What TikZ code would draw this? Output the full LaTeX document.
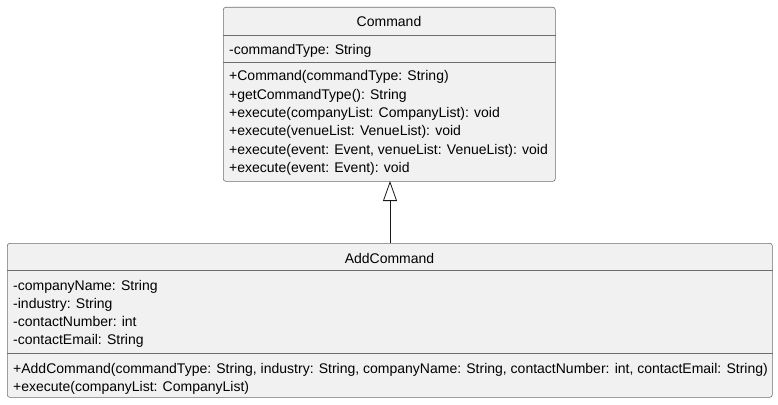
\documentclass[tikz,border=0pt]{standalone}
\usepackage{fontspec}
\setmainfont{Liberation Sans}
\usetikzlibrary{arrows.meta}
\definecolor{boxfill}{HTML}{F1F1F1}
\definecolor{boxline}{HTML}{6E6E6E}
\definecolor{arrowline}{HTML}{181818}
\tikzset{
  classbox/.style={draw=boxline, fill=boxfill, line width=0.6pt, rounded corners=2.5pt, inner sep=0pt, anchor=north west},
  sepline/.style={draw=boxline, line width=0.6pt},
  member/.style={anchor=base west, inner sep=0pt, font=\fontsize{14pt}{16pt}\selectfont, text=black},
  title/.style={anchor=base, inner sep=0pt, font=\fontsize{14pt}{16pt}\selectfont, text=black},
  inherit/.style={draw=arrowline, line width=0.8pt, -{Triangle[open, length=20pt, width=14pt]}}
}
\begin{document}
\begin{tikzpicture}[x=1pt, y=-1pt]
\useasboundingbox (0,0) rectangle (778,404);
% Command class
\node[classbox, minimum width=332pt, minimum height=174pt] (cmd) at (223,7) {};
\draw[sepline] (cmd.west |- 0,35) -- (cmd.east |- 0,35);
\draw[sepline] (cmd.west |- 0,62) -- (cmd.east |- 0,62);
\node[title] (cmdtitle) at (389,26.5) {Command};
\node[member] (ca1) at (229,54.5) {-commandType: String};
\node[member] (cm1) at (229,81) {+Command(commandType: String)};
\node[member] (cm2) at (229,99.3) {+getCommandType(): String};
\node[member] (cm3) at (229,117.6) {+execute(companyList: CompanyList): void};
\node[member] (cm4) at (229,135.9) {+execute(venueList: VenueList): void};
\node[member] (cm5) at (229,154.2) {+execute(event: Event, venueList: VenueList): void};
\node[member] (cm6) at (229,172.5) {+execute(event: Event): void};
% AddCommand class
\node[classbox, minimum width=765pt, minimum height=154pt] (add) at (7,243) {};
\draw[sepline] (add.west |- 0,270.5) -- (add.east |- 0,270.5);
\draw[sepline] (add.west |- 0,353) -- (add.east |- 0,353);
\node[title] (addtitle) at (389.5,263) {AddCommand};
\node[member] (aa1) at (13,290) {-companyName: String};
\node[member] (aa2) at (13,308.3) {-industry: String};
\node[member] (aa3) at (13,326.6) {-contactNumber: int};
\node[member] (aa4) at (13,344.9) {-contactEmail: String};
\node[member] (am1) at (13,373.5) {+AddCommand(commandType: String, industry: String, companyName: String, contactNumber: int, contactEmail: String)};
\node[member] (am2) at (13,391.8) {+execute(companyList: CompanyList)};
% inheritance
\coordinate (tip) at (390,181);
\coordinate (foot) at (390,243);
\draw[inherit] (foot) -- (tip);
\end{tikzpicture}
\end{document}
